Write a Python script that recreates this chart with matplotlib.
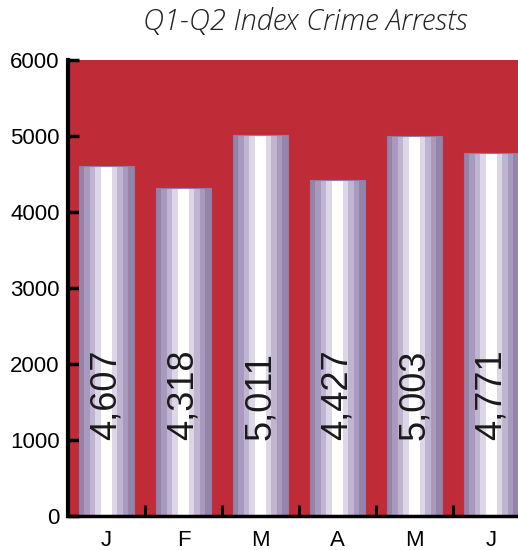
import numpy as np
import matplotlib
matplotlib.use('Agg')
import matplotlib.pyplot as plt

months = ['J', 'F', 'M', 'A', 'M', 'J']
arrests = [4607, 4318, 5011, 4427, 5003, 4771]
labels = ['4,607', '4,318', '5,011', '4,427', '5,003', '4,771']

# cylinder shading, left edge -> right edge (relative widths)
stripe_colors = ['#9484aa', '#a899bd', '#c0b5d0', '#ddd6e7', '#ffffff',
                 '#ddd6e7', '#c0b5d0', '#a899bd', '#9484aa']
stripe_widths = [1, 1, 1, 1, 2, 1, 1, 1, 1]

fig = plt.figure(figsize=(5.18, 5.5), dpi=100)
ax = fig.add_axes([68/518, 34/550, 462/518, 456/550])
ax.set_facecolor('#c02b38')

x = np.arange(len(months))
bar_w = 0.72
unit = bar_w / sum(stripe_widths)
# base bar so no red shows through between stripes
ax.bar(x, arrests, width=bar_w, color=stripe_colors[0], linewidth=0, zorder=2)
left = -bar_w / 2
for c, w in zip(stripe_colors, stripe_widths):
    ax.bar(x + left + unit * w / 2, arrests, width=unit * w * 1.08, color=c,
           linewidth=0, zorder=2)
    left += unit * w
# thin outline on each bar
ax.bar(x, arrests, width=bar_w, facecolor='none', edgecolor='#8f7fa8',
       linewidth=0.8, zorder=3)

for xi, lab in zip(x, labels):
    ax.text(xi, 1000, lab, rotation=90, ha='center', va='bottom',
            fontsize=26, color='#1a1a1a', family='Liberation Sans', zorder=4)

ax.set_xlim(-0.5, len(months) - 0.5)
ax.set_ylim(0, 6000)
ax.set_yticks(range(0, 6001, 1000))
ax.set_yticklabels([str(v) for v in range(0, 6001, 1000)],
                   fontsize=16, family='Liberation Sans')
ax.set_xticks(x)
ax.set_xticklabels(months, fontsize=16, family='Liberation Sans')
ax.tick_params(axis='x', length=0, pad=10)
ax.set_xticks(np.arange(0.5, len(months) - 0.5), minor=True)
ax.tick_params(axis='x', which='minor', direction='in', length=8, width=2.2,
               color='black')
ax.tick_params(axis='y', direction='in', length=8, width=2.5, pad=6)

for s in ['top', 'right']:
    ax.spines[s].set_visible(False)
ax.spines['left'].set_linewidth(3)
ax.spines['bottom'].set_linewidth(2.5)
ax.spines['left'].set_zorder(5)
ax.spines['bottom'].set_zorder(5)

fig.text(305/518, 1 - 22/550, 'Q1-Q2 Index Crime Arrests', ha='center',
         va='center', fontsize=21, family='Open Sans', fontweight='light',
         style='italic', color='#222222')

fig.savefig('out.png', dpi=100)
